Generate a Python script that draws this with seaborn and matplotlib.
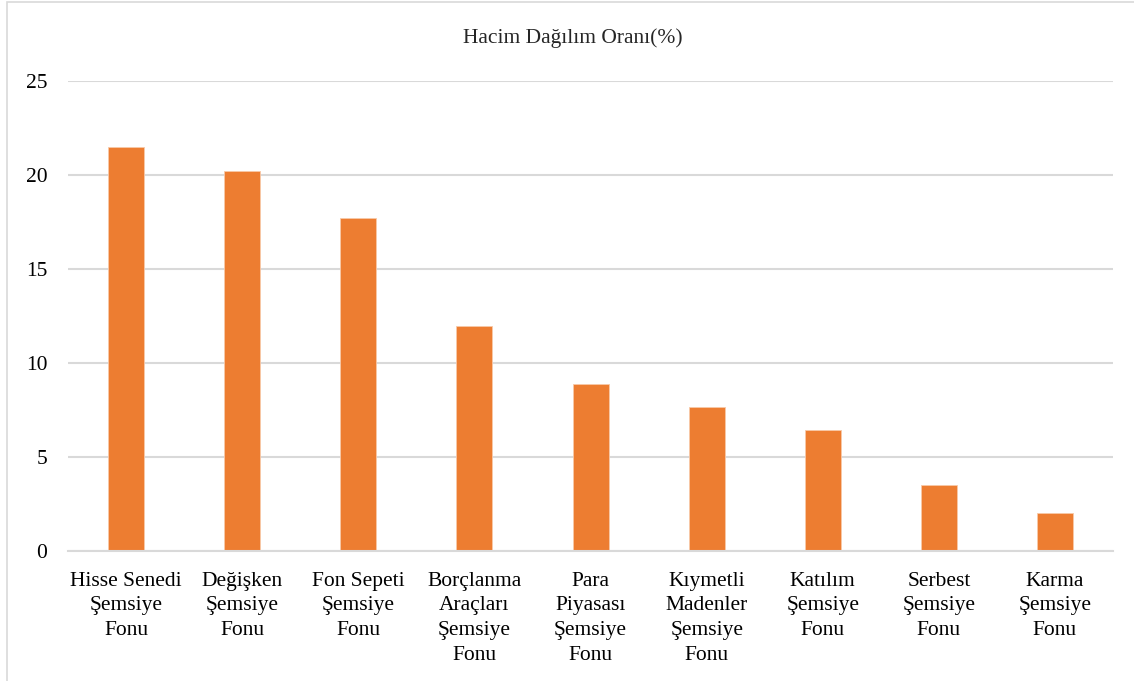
import matplotlib.pyplot as plt
import seaborn as sns
import pandas as pd
from matplotlib.patches import Rectangle

# Veriler
categories = [
    "Hisse Senedi\nŞemsiye\nFonu",
    "Değişken\nŞemsiye\nFonu",
    "Fon Sepeti\nŞemsiye\nFonu",
    "Borçlanma\nAraçları\nŞemsiye\nFonu",
    "Para\nPiyasası\nŞemsiye\nFonu",
    "Kıymetli\nMadenler\nŞemsiye\nFonu",
    "Katılım\nŞemsiye\nFonu",
    "Serbest\nŞemsiye\nFonu",
    "Karma\nŞemsiye\nFonu",
]
values = [21.5, 20.2, 17.7, 11.95, 8.9, 7.65, 6.45, 3.5, 2.0]
yticks = [0, 5, 10, 15, 20, 25]
title = "Hacim Dağılım Oranı(%)"

df = pd.DataFrame({"kategori": categories, "oran": values})

sns.set_theme(style="white")
plt.rcParams['font.family'] = ['Liberation Serif', 'DejaVu Serif']

fig = plt.figure(figsize=(11.34, 6.81), dpi=100)
ax = fig.add_axes([0.06, 0.191, 0.9215, 0.69])

sns.barplot(data=df, x="kategori", y="oran", color="#ED7D31", width=0.31,
            saturation=1, edgecolor="#F8C9A8", linewidth=0.6, ax=ax)

ax.set_ylim(0, 25)
ax.set_yticks(yticks)
ax.set_xlim(-0.5, len(categories) - 0.5)
ax.yaxis.grid(True, color="#D9D9D9", linewidth=1.5)
ax.set_axisbelow(True)
for s in ["top", "right", "left"]:
    ax.spines[s].set_visible(False)
ax.spines["bottom"].set_color("#D9D9D9")
ax.spines["bottom"].set_linewidth(1.5)
ax.tick_params(axis="both", length=0, labelsize=15.5, colors="black")
ax.tick_params(axis="y", pad=15)
ax.tick_params(axis="x", pad=15)
for lbl in ax.get_xticklabels():
    lbl.set_linespacing(1.4)
ax.set_xlabel("")
ax.set_ylabel("")

fig.text(0.505, 0.944, title, ha="center", va="center", fontsize=15.5)

# Grafik çerçevesi
fig.patches.append(Rectangle((7 / 1134, -0.05), 1.2, 1 - 2 / 681 + 0.05,
                             transform=fig.transFigure, fill=False,
                             edgecolor="#D9D9D9", linewidth=1.2))

plt.savefig("out.png", dpi=100)
